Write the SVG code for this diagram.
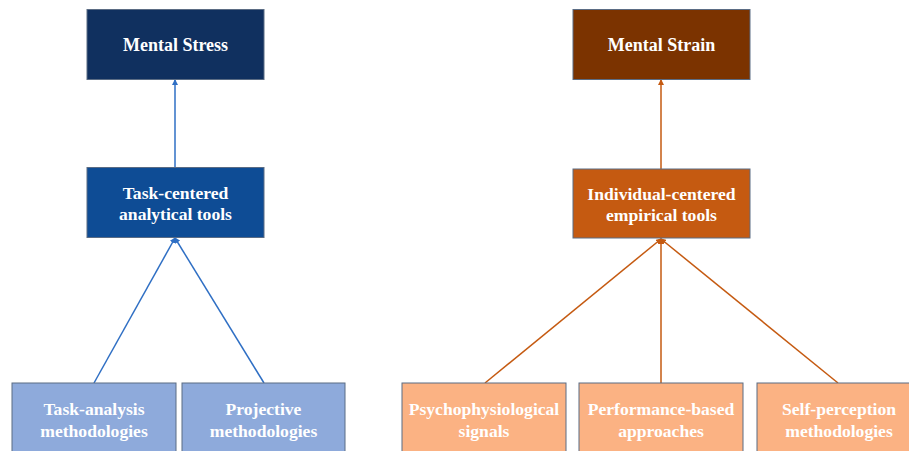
<svg xmlns="http://www.w3.org/2000/svg" width="909" height="451" viewBox="0 0 909 451">
<defs>
<style>
.box{stroke:#5B6C84;stroke-width:1}
.t{font-family:"Liberation Serif","Times New Roman",serif;font-weight:bold;font-size:17.6px;fill:#FFFFFF;text-anchor:middle}
.big{font-size:18px}
.cb{stroke:#2F6FC4;stroke-width:1.5;fill:none}
.co{stroke:#C55A11;stroke-width:1.5;fill:none}
</style>
<marker id="ab" viewBox="0 0 6 6" refX="5" refY="3" markerWidth="4" markerHeight="4" orient="auto"><path d="M0,0 L6,3 L0,6 z" fill="#2F6FC4"/></marker>
<marker id="ao" viewBox="0 0 6 6" refX="5" refY="3" markerWidth="4" markerHeight="4" orient="auto"><path d="M0,0 L6,3 L0,6 z" fill="#C55A11"/></marker>
</defs>
<rect width="909" height="451" fill="#FFFFFF"/>
<g id="connectors">
<line class="cb" x1="175" y1="167" x2="175" y2="80" marker-end="url(#ab)"/>
<line class="cb" x1="94" y1="383" x2="175" y2="238" marker-end="url(#ab)"/>
<line class="cb" x1="264" y1="383" x2="175" y2="238" marker-end="url(#ab)"/>
<line class="co" x1="661" y1="169" x2="661" y2="80" marker-end="url(#ao)"/>
<line class="co" x1="485" y1="383" x2="661" y2="239" marker-end="url(#ao)"/>
<line class="co" x1="661" y1="383" x2="661" y2="239" marker-end="url(#ao)"/>
<line class="co" x1="838" y1="383" x2="661" y2="239" marker-end="url(#ao)"/>
</g>
<g id="mental-stress">
<rect class="box" x="87" y="9.5" width="177" height="70" fill="#10305F"/>
<text class="t big" x="175.5" y="51">Mental Stress</text>
</g>
<g id="task-centered">
<rect class="box" x="87" y="167.5" width="177" height="70" fill="#0E4C95"/>
<text class="t" x="175.5" y="199">Task-centered</text>
<text class="t" x="175.5" y="220">analytical tools</text>
</g>
<g id="task-analysis">
<rect class="box" x="12" y="383" width="164" height="80" fill="#8EAADB"/>
<text class="t" x="94" y="415">Task-analysis</text>
<text class="t" x="94" y="437">methodologies</text>
</g>
<g id="projective">
<rect class="box" x="182" y="383" width="163" height="80" fill="#8EAADB"/>
<text class="t" x="263.5" y="415">Projective</text>
<text class="t" x="263.5" y="437">methodologies</text>
</g>
<g id="mental-strain">
<rect class="box" x="573" y="9.5" width="177" height="70" fill="#7B3300"/>
<text class="t big" x="661.5" y="51">Mental Strain</text>
</g>
<g id="individual-centered">
<rect class="box" x="573" y="169" width="177" height="69" fill="#C55A11"/>
<text class="t" x="661.5" y="200">Individual-centered</text>
<text class="t" x="661.5" y="221">empirical tools</text>
</g>
<g id="psychophysiological">
<rect class="box" x="402" y="383" width="164" height="80" fill="#FBB283"/>
<text class="t" x="484" y="415">Psychophysiological</text>
<text class="t" x="484" y="437">signals</text>
</g>
<g id="performance-based">
<rect class="box" x="579" y="383" width="164" height="80" fill="#FBB283"/>
<text class="t" x="661" y="415">Performance-based</text>
<text class="t" x="661" y="437">approaches</text>
</g>
<g id="self-perception">
<rect class="box" x="757" y="383" width="164" height="80" fill="#FBB283"/>
<text class="t" x="839" y="415">Self-perception</text>
<text class="t" x="839" y="437">methodologies</text>
</g>
</svg>
